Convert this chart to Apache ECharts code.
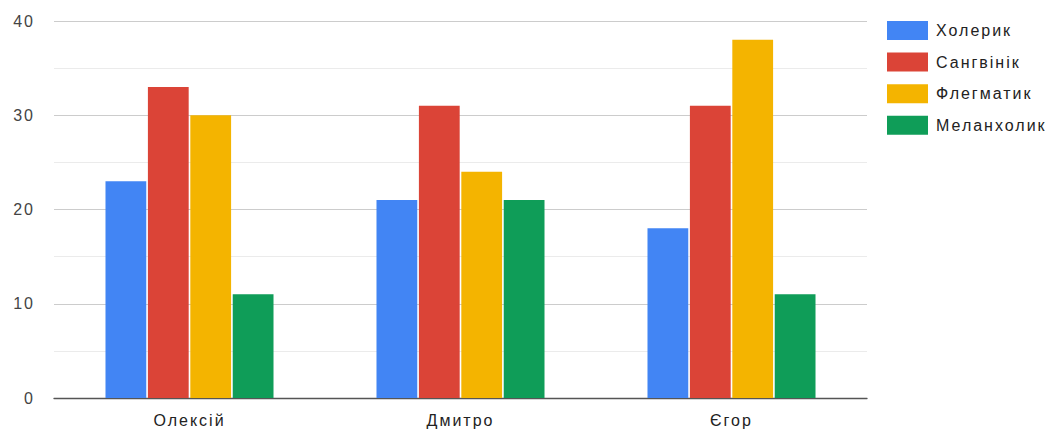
<!DOCTYPE html>
<html><head><meta charset="utf-8">
<script src="https://cdn.jsdelivr.net/npm/echarts@6/dist/echarts.min.js"></script>
<style>html,body{margin:0;padding:0;background:#fff}#c{width:1057px;height:432px}#c svg text{letter-spacing:2px}</style>
</head><body><div id="c"></div>
<script>
const categories = ['Олексій', 'Дмитро', 'Єгор'];
const seriesNames = ['Холерик', 'Сангвінік', 'Флегматик', 'Меланхолик'];
const cholericValues = [23, 21, 18];
const sanguineValues = [33, 31, 31];
const phlegmaticValues = [30, 24, 38];
const melancholicValues = [11, 21, 11];
const colors = ['#4285f4', '#db4437', '#f4b400', '#0f9d58'];
const allValues = [cholericValues, sanguineValues, phlegmaticValues, melancholicValues];

const font = '"Liberation Sans", Arial, sans-serif';
const chart = echarts.init(document.getElementById('c'), null, { renderer: 'svg' });
chart.setOption({
  animation: false,
  color: colors,
  textStyle: { fontFamily: font },
  grid: { left: 54, right: 190, top: 21, bottom: 34 },
  legend: {
    orient: 'vertical', left: 882, top: 16,
    itemWidth: 41, itemHeight: 19, itemGap: 12.6,
    icon: 'rect',
    textStyle: { fontSize: 16, color: '#222', fontFamily: font, padding: [0, 0, 0, 3] },
    data: seriesNames
  },
  xAxis: {
    type: 'category', data: categories,
    axisLine: { show: true, lineStyle: { color: '#555', width: 1.3 } },
    axisTick: { show: false },
    axisLabel: { fontSize: 16, color: '#222', margin: 14, fontFamily: font }
  },
  yAxis: {
    type: 'value', min: 0, max: 40, interval: 10,
    axisLine: { show: false }, axisTick: { show: false },
    axisLabel: { fontSize: 16, color: '#444', margin: 19, fontFamily: font },
    splitLine: { lineStyle: { color: '#cccccc', width: 1 } },
    minorTick: { show: false, splitNumber: 2 },
    minorSplitLine: { show: true, lineStyle: { color: '#ebebeb', width: 1 } }
  },
  series: seriesNames.map((n, i) => ({
    name: n, type: 'bar', data: allValues[i],
    barCategoryGap: '38%', barGap: '4%'
  }))
});
</script></body></html>
